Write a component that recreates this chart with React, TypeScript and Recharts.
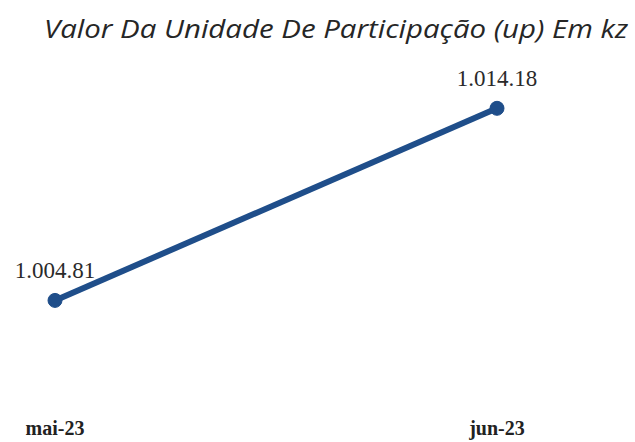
import { LineChart, Line, XAxis, YAxis, LabelList } from "recharts";

const months = ["mai-23", "jun-23"];
const unitValues = [1004.81, 1014.18];

const data = months.map((m, i) => ({ month: m, value: unitValues[i] }));

const LINE_COLOR = "#1f4e8a";
const TITLE = "Valor Da Unidade De Participação (up) Em kz";

// source formats thousands and decimals both with "."
const fmt = (v: number) => {
  const [int, dec] = v.toFixed(2).split(".");
  return int.replace(/\B(?=(\d{3})+(?!\d))/g, ".") + "." + dec;
};

const MonthTick = ({ x, y, payload }: any) => (
  <text
    x={x}
    y={y + 28}
    textAnchor="middle"
    fontFamily="'Liberation Serif', serif"
    fontWeight="bold"
    fontSize={20}
    fill="#222"
  >
    {payload.value}
  </text>
);

export default function App() {
  return (
    <div style={{ position: "absolute", left: 0, top: 0, width: 635, height: 442, background: "#fff" }}>
      <svg width={635} height={60} style={{ position: "absolute", left: 0, top: 0 }}>
        <text
          x={44}
          y={38}
          textLength={584}
          lengthAdjust="spacingAndGlyphs"
          fontFamily="'Open Sans', sans-serif"
          fontStyle="italic"
          fontSize={26}
          fill="#262626"
        >
          {TITLE}
        </text>
      </svg>
      <LineChart width={635} height={442} data={data} margin={{ top: 30, right: 138, left: 55, bottom: 0 }}>
        <XAxis dataKey="month" axisLine={false} tickLine={false} tick={<MonthTick />} height={43} />
        <YAxis hide domain={[1000, 1018]} />
        <Line
          dataKey="value"
          stroke={LINE_COLOR}
          strokeWidth={6}
          dot={{ r: 7, fill: LINE_COLOR, stroke: LINE_COLOR, strokeWidth: 1 }}
          isAnimationActive={false}
        >
          <LabelList
            dataKey="value"
            position="top"
            offset={22}
            formatter={(v: any) => fmt(Number(v))}
            style={{ fontFamily: "'Liberation Serif', serif", fontSize: 23, fill: "#2a2a2a" }}
          />
        </Line>
      </LineChart>
    </div>
  );
}
